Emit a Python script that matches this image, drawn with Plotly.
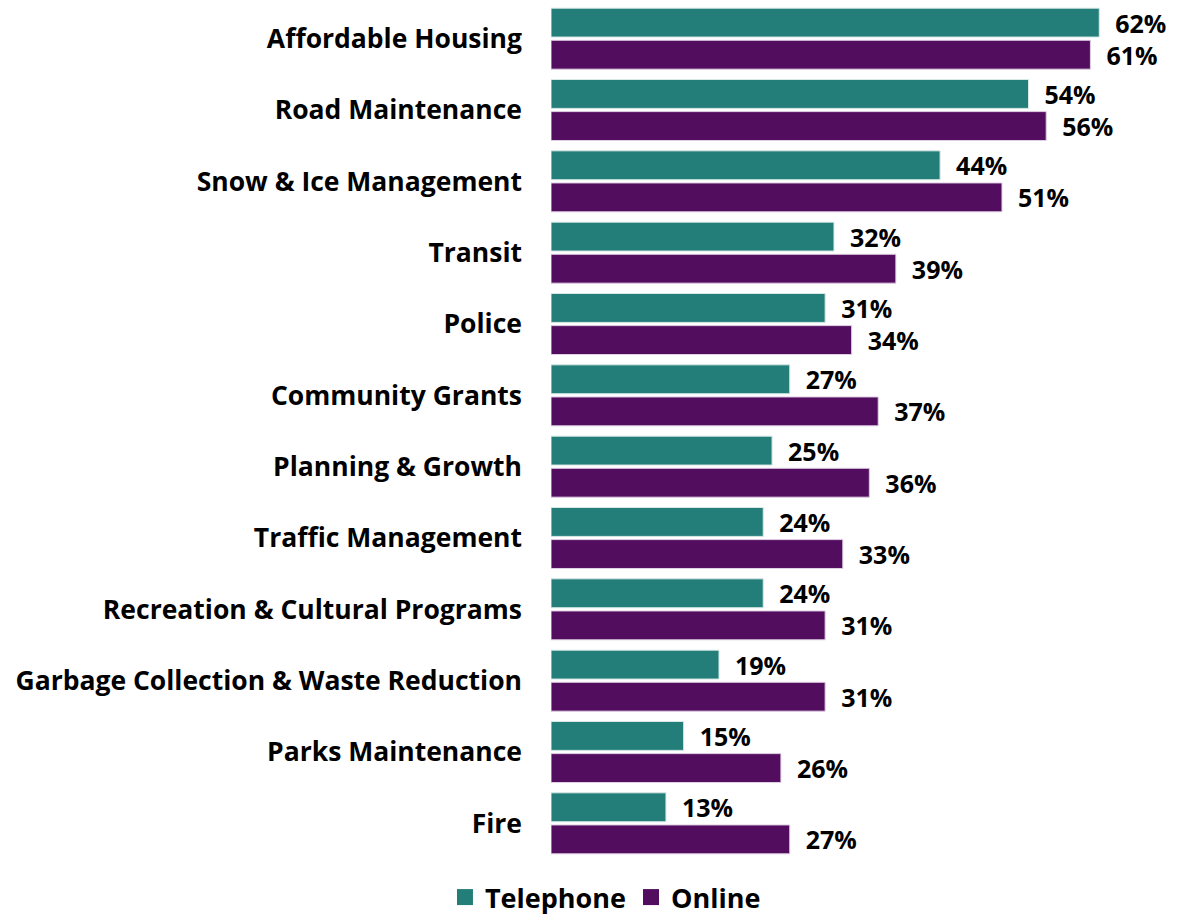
import plotly.graph_objects as go

categories = ["Affordable Housing", "Road Maintenance", "Snow & Ice Management", "Transit",
              "Police", "Community Grants", "Planning & Growth", "Traffic Management",
              "Recreation & Cultural Programs", "Garbage Collection & Waste Reduction",
              "Parks Maintenance", "Fire"]
telephone = [62, 54, 44, 32, 31, 27, 25, 24, 24, 19, 15, 13]
online = [61, 56, 51, 39, 34, 37, 36, 33, 31, 31, 26, 27]

FONT = "Open Sans"
TEAL = "#237E7A"
PURPLE = "#530D5F"
fig = go.Figure()
fig.add_trace(go.Bar(
    y=categories, x=telephone, name="Telephone", orientation="h", showlegend=False,
    marker=dict(color=TEAL, line=dict(color="#d8e8e6", width=1)),
    text=[f"  {v}%" for v in telephone], textposition="outside", cliponaxis=False,
    constraintext="none",
    textfont=dict(family=FONT, size=25, color="black", weight="bold"),
))
fig.add_trace(go.Bar(
    y=categories, x=online, name="Online", orientation="h", showlegend=False,
    marker=dict(color=PURPLE, line=dict(color="#e0d0e4", width=1)),
    text=[f"  {v}%" for v in online], textposition="outside", cliponaxis=False,
    constraintext="none",
    textfont=dict(family=FONT, size=25, color="black", weight="bold"),
))
for nm, col in [("Telephone", TEAL), ("Online", PURPLE)]:
    fig.add_trace(go.Scatter(
        x=[None], y=[None], mode="markers", name=nm,
        marker=dict(symbol="square", size=18, color=col),
    ))
fig.update_layout(
    width=1180, height=916, barmode="group", bargap=0.1, bargroupgap=0.1,
    plot_bgcolor="white", paper_bgcolor="white",
    margin=dict(l=551, r=10, t=3, b=57, autoexpand=False),
    font=dict(family=FONT, color="black"),
    xaxis=dict(range=[0, 70], visible=False),
    yaxis=dict(autorange="reversed", showline=False, showgrid=False, ticks="",
               ticklabelstandoff=28, automargin=False,
               tickfont=dict(family=FONT, size=26.5, color="black", weight="bold")),
    legend=dict(orientation="h", x=0.088, xanchor="center", y=-0.045, yanchor="middle",
                font=dict(family=FONT, size=27, color="black", weight="bold"),
                itemsizing="trace", traceorder="normal", tracegroupgap=0),
)
fig.write_html("out.html", config={"displayModeBar": False},
               post_script="document.body.style.margin='0';document.body.style.overflow='hidden';")
